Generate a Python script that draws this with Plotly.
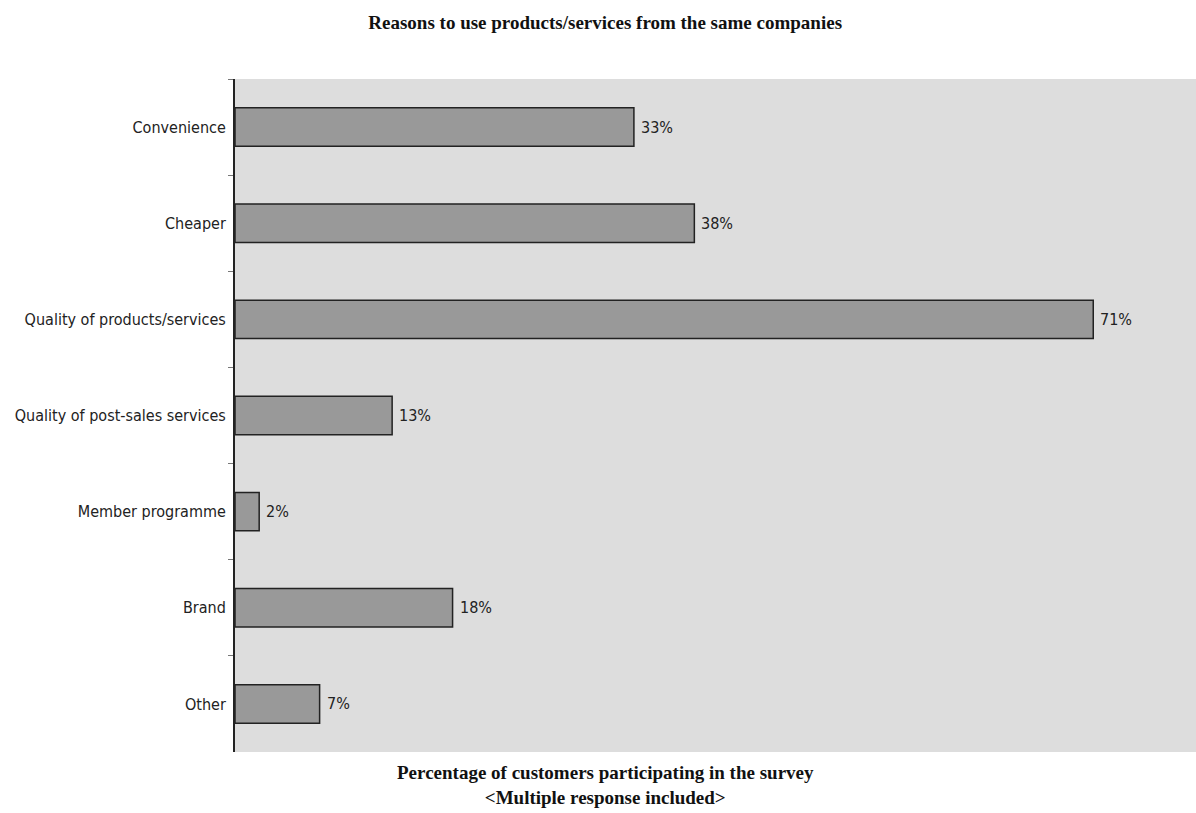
import plotly.graph_objects as go

categories = [
    "Convenience",
    "Cheaper",
    "Quality of products/services",
    "Quality of post-sales services",
    "Member programme",
    "Brand",
    "Other",
]
percentages = [33, 38, 71, 13, 2, 18, 7]

title_text = "Reasons to use products/services from the same companies"
x_title_lines = [
    "Percentage of customers participating in the survey",
    "&lt;Multiple response included&gt;",
]

SANS_NARROW = "Liberation Sans Narrow, Arial Narrow, DejaVu Sans Condensed, Liberation Sans, sans-serif"
SERIF = "Liberation Serif, Times New Roman, serif"

fig = go.Figure(
    go.Bar(
        x=percentages,
        y=categories,
        orientation="h",
        marker=dict(color="#999999", line=dict(color="#222222", width=1.5)),
        width=0.4,
        hoverinfo="x+y",
    )
)

# value labels placed just past each bar end
for cat, val in zip(categories, percentages):
    fig.add_annotation(
        x=val,
        y=cat,
        xref="x",
        yref="y",
        text=f"{val}%",
        showarrow=False,
        xanchor="left",
        yanchor="middle",
        xshift=5,
        font=dict(family=SANS_NARROW, size=16, color="#222222"),
    )

# two-line axis caption below the plot area, centred on the page
fig.add_annotation(
    x=0.506,
    y=-0.012,
    xref="paper",
    yref="paper",
    xanchor="center",
    yanchor="top",
    showarrow=False,
    align="center",
    text="<br>".join(x_title_lines),
    font=dict(family=SERIF, size=19, color="#111111", weight="bold"),
)

fig.update_layout(
    width=1196,
    height=813,
    margin=dict(l=235, r=0, t=79, b=61),
    paper_bgcolor="white",
    plot_bgcolor="#DDDDDD",
    showlegend=False,
    title=dict(
        text=title_text,
        x=0.506,
        xanchor="center",
        y=0.973,
        yanchor="middle",
        font=dict(family=SERIF, size=19, color="#111111", weight="bold"),
    ),
)

fig.update_xaxes(
    range=[0, 79.5],
    showticklabels=False,
    showgrid=False,
    zeroline=False,
    showline=False,
    ticks="",
)

fig.update_yaxes(
    categoryorder="array",
    categoryarray=categories,
    autorange="reversed",
    showgrid=False,
    zeroline=False,
    showline=True,
    linecolor="#222222",
    linewidth=2,
    ticks="outside",
    tickson="boundaries",
    ticklen=5,
    tickcolor="#777777",
    tickfont=dict(family=SANS_NARROW, size=16, color="#222222"),
    ticklabelstandoff=4,
)

# shift the caption so it is centred on the page rather than the plot area
fig.layout.annotations[-1].x = (0.506 * 1196 - 235) / (1196 - 235)

fig.write_html("out.html")
